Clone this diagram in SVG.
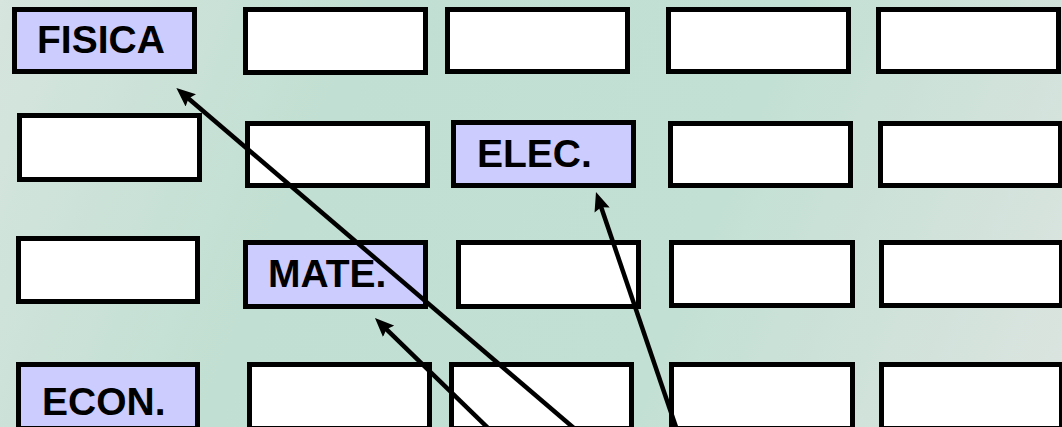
<svg xmlns="http://www.w3.org/2000/svg" width="1062" height="427" viewBox="0 0 1062 427">
<defs>
<linearGradient id="bg" x1="0" y1="0" x2="1062" y2="427" gradientUnits="userSpaceOnUse">
<stop offset="0" stop-color="#d6e5de"/>
<stop offset="0.3" stop-color="#c1dfd2"/>
<stop offset="0.65" stop-color="#c3e0d4"/>
<stop offset="1" stop-color="#dce4e0"/>
</linearGradient>
<marker id="ah" viewBox="0 0 19 16" refX="5" refY="8" markerWidth="19" markerHeight="16" markerUnits="userSpaceOnUse" orient="auto">
<path d="M0,0 L19,8 L0,16 L3,8 z" fill="#000"/>
</marker>
</defs>
<style>
.b{fill:#ffffff;stroke:#000;stroke-width:5}
.h{fill:#ccccff;stroke:#000;stroke-width:5}
.t{font-family:"Liberation Sans",Arial,sans-serif;font-weight:bold;font-size:39px;fill:#000}
.c{fill:none;stroke:#000;stroke-width:4.5}
</style>
<rect x="0" y="0" width="1062" height="427" fill="url(#bg)"/>
<g id="r1c1"><rect class="h" x="14.5" y="9.5" width="180" height="62"/><text class="t" x="37" y="53">FISICA</text></g>
<g id="r1c2"><rect class="b" x="245.5" y="9.5" width="180" height="63"/></g>
<g id="r1c3"><rect class="b" x="447.5" y="9.5" width="180" height="62"/></g>
<g id="r1c4"><rect class="b" x="668.5" y="9.5" width="180" height="62"/></g>
<g id="r1c5"><rect class="b" x="878.5" y="9.5" width="180" height="62"/></g>
<g id="r2c1"><rect class="b" x="19.5" y="115.5" width="180" height="64"/></g>
<g id="r2c2"><rect class="b" x="247.5" y="123.5" width="180" height="62"/></g>
<g id="r2c3"><rect class="h" x="453.5" y="122.5" width="180" height="63"/><text class="t" x="477" y="167">ELEC.</text></g>
<g id="r2c4"><rect class="b" x="670.5" y="123.5" width="180" height="62"/></g>
<g id="r2c5"><rect class="b" x="880.5" y="123.5" width="180" height="62"/></g>
<g id="r3c1"><rect class="b" x="18.5" y="238.5" width="179" height="63"/></g>
<g id="r3c2"><rect class="h" x="245.5" y="242.5" width="180" height="64"/><text class="t" x="268" y="287">MATE.</text></g>
<g id="r3c3"><rect class="b" x="458.5" y="242.5" width="180" height="64"/></g>
<g id="r3c4"><rect class="b" x="671.5" y="242.5" width="181" height="63"/></g>
<g id="r3c5"><rect class="b" x="881.5" y="242.5" width="180" height="63"/></g>
<g id="r4c1"><rect class="h" x="18.5" y="364.5" width="179" height="64"/><text class="t" x="42" y="415">ECON.</text></g>
<g id="r4c2"><rect class="b" x="249.5" y="364.5" width="180" height="64"/></g>
<g id="r4c3"><rect class="b" x="451.5" y="364.5" width="180" height="64"/></g>
<g id="r4c4"><rect class="b" x="671.5" y="364.5" width="181" height="64"/></g>
<g id="r4c5"><rect class="b" x="881.5" y="364.5" width="180" height="64"/></g>
<g id="connectors">
<path class="c" d="M582,435 L187,97.2" marker-end="url(#ah)"/>
<path class="c" d="M495.2,435 L385,327.8" marker-end="url(#ah)"/>
<path class="c" d="M678.7,435 L600.5,205.3" marker-end="url(#ah)"/>
</g>
</svg>
